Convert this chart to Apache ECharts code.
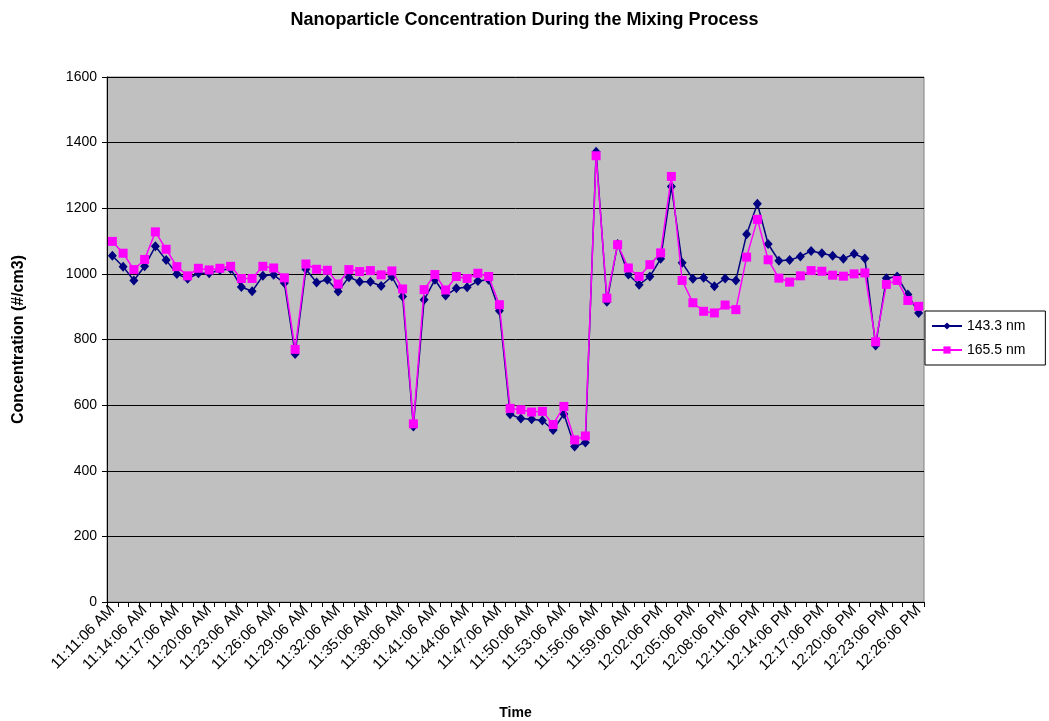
<!DOCTYPE html>
<html>
<head>
<meta charset="utf-8">
<title>Nanoparticle Concentration During the Mixing Process</title>
<script src="https://cdn.jsdelivr.net/npm/echarts@6/dist/echarts.min.js"></script>
<style>
  html, body { margin: 0; padding: 0; background: #ffffff; }
  #chart { width: 1049px; height: 721px; }
</style>
</head>
<body>
<div id="chart"></div>
<script>
// Sample times, one reading per minute
const times = [
  '11:11:06 AM','11:12:06 AM','11:13:06 AM','11:14:06 AM','11:15:06 AM','11:16:06 AM','11:17:06 AM','11:18:06 AM',
  '11:19:06 AM','11:20:06 AM','11:21:06 AM','11:22:06 AM','11:23:06 AM','11:24:06 AM','11:25:06 AM','11:26:06 AM',
  '11:27:06 AM','11:28:06 AM','11:29:06 AM','11:30:06 AM','11:31:06 AM','11:32:06 AM','11:33:06 AM','11:34:06 AM',
  '11:35:06 AM','11:36:06 AM','11:37:06 AM','11:38:06 AM','11:39:06 AM','11:40:06 AM','11:41:06 AM','11:42:06 AM',
  '11:43:06 AM','11:44:06 AM','11:45:06 AM','11:46:06 AM','11:47:06 AM','11:48:06 AM','11:49:06 AM','11:50:06 AM',
  '11:51:06 AM','11:52:06 AM','11:53:06 AM','11:54:06 AM','11:55:06 AM','11:56:06 AM','11:57:06 AM','11:58:06 AM',
  '11:59:06 AM','12:00:06 PM','12:01:06 PM','12:02:06 PM','12:03:06 PM','12:04:06 PM','12:05:06 PM','12:06:06 PM',
  '12:07:06 PM','12:08:06 PM','12:09:06 PM','12:10:06 PM','12:11:06 PM','12:12:06 PM','12:13:06 PM','12:14:06 PM',
  '12:15:06 PM','12:16:06 PM','12:17:06 PM','12:18:06 PM','12:19:06 PM','12:20:06 PM','12:21:06 PM','12:22:06 PM',
  '12:23:06 PM','12:24:06 PM','12:25:06 PM','12:26:06 PM'
];

// Concentration (#/cm3) for the 143.3 nm size channel
const conc143 = [
  1055, 1022, 980, 1023, 1084, 1042, 1000, 985, 1002, 1002, 1012, 1015, 960, 947, 994, 997,
  972, 756, 1014, 974, 982, 946, 990, 976, 976, 963, 992, 931, 535, 921, 982, 934,
  956, 959, 978, 982, 888, 572, 559, 557, 553, 524, 573, 474, 486, 1372, 915, 1091,
  998, 967, 992, 1046, 1266, 1034, 985, 988, 962, 986, 980, 1121, 1214, 1091, 1040, 1042,
  1053, 1070, 1063, 1055, 1046, 1061, 1047, 782, 987, 992, 937, 881
];

// Concentration (#/cm3) for the 165.5 nm size channel
const conc165 = [
  1099, 1063, 1013, 1044, 1128, 1075, 1022, 994, 1017, 1012, 1017, 1023, 986, 986, 1023, 1018,
  988, 770, 1030, 1014, 1011, 969, 1013, 1007, 1010, 997, 1009, 954, 543, 952, 998, 951,
  992, 986, 1002, 992, 906, 590, 586, 579, 581, 541, 596, 494, 506, 1360, 926, 1089,
  1018, 992, 1028, 1064, 1297, 980, 912, 886, 881, 905, 891, 1051, 1166, 1043, 987, 975,
  994, 1010, 1008, 996, 993, 1000, 1003, 793, 968, 980, 919, 901
];

const seriesNames = ['143.3 nm', '165.5 nm'];

const FONT = '"Liberation Sans", Arial, sans-serif';

const chart = echarts.init(document.getElementById('chart'), null, { renderer: 'canvas' });

chart.setOption({
  animation: false,
  backgroundColor: '#ffffff',
  textStyle: { fontFamily: FONT, color: '#000' },
  title: {
    text: 'Nanoparticle Concentration During the Mixing Process',
    left: 'center',
    top: 6,
    textStyle: { fontFamily: FONT, fontSize: 18, fontWeight: 'bold', color: '#000' }
  },
  legend: {
    orient: 'vertical',
    left: 925,
    top: 311,
    padding: [8, 20, 8, 6],
    itemGap: 10,
    itemWidth: 30,
    itemHeight: 9,
    borderColor: '#000',
    borderWidth: 1,
    backgroundColor: '#ffffff',
    textStyle: { fontFamily: FONT, fontSize: 14, color: '#000' },
    data: seriesNames
  },
  grid: {
    left: 107,
    right: 125,
    top: 77,
    bottom: 119,
    containLabel: false,
    outerBoundsMode: 'none',
    show: true,
    backgroundColor: '#C0C0C0',
    borderColor: '#808080',
    borderWidth: 1
  },
  xAxis: {
    type: 'category',
    data: times,
    boundaryGap: true,
    name: 'Time',
    nameLocation: 'middle',
    nameGap: 104,
    nameTextStyle: { fontFamily: FONT, fontSize: 14, fontWeight: 'bold', color: '#000' },
    axisLine: { show: true, lineStyle: { color: '#000', width: 1 } },
    axisTick: { show: true, interval: 0, length: 5, lineStyle: { color: '#000' } },
    axisLabel: {
      interval: 2,
      rotate: 45,
      margin: 6,
      fontFamily: FONT,
      fontSize: 15,
      color: '#000'
    },
    splitLine: { show: false }
  },
  yAxis: {
    type: 'value',
    min: 0,
    max: 1600,
    interval: 200,
    name: 'Concentration (#/cm3)',
    nameLocation: 'middle',
    nameGap: 80,
    nameRotate: 90,
    nameTextStyle: { fontFamily: FONT, fontSize: 16, fontWeight: 'bold', color: '#000' },
    axisLine: { show: true, lineStyle: { color: '#000', width: 1 } },
    axisTick: { show: true, length: 5, lineStyle: { color: '#000' } },
    axisLabel: {
      fontFamily: FONT,
      fontSize: 14,
      color: '#000',
      margin: 10,
      formatter: function (v) { return String(v); }
    },
    splitLine: { show: true, lineStyle: { color: '#000', width: 1 } }
  },
  series: [
    {
      name: seriesNames[0],
      type: 'line',
      data: conc143,
      symbol: 'diamond',
      symbolSize: [9, 10],
      showAllSymbol: true,
      lineStyle: { color: '#000080', width: 1.5 },
      itemStyle: { color: '#000080', borderWidth: 0 },
      z: 2
    },
    {
      name: seriesNames[1],
      type: 'line',
      data: conc165,
      symbol: 'rect',
      symbolSize: 9,
      showAllSymbol: true,
      lineStyle: { color: '#FF00FF', width: 1.5 },
      itemStyle: { color: '#FF00FF', borderWidth: 0 },
      z: 3
    }
  ]
});
</script>
</body>
</html>
